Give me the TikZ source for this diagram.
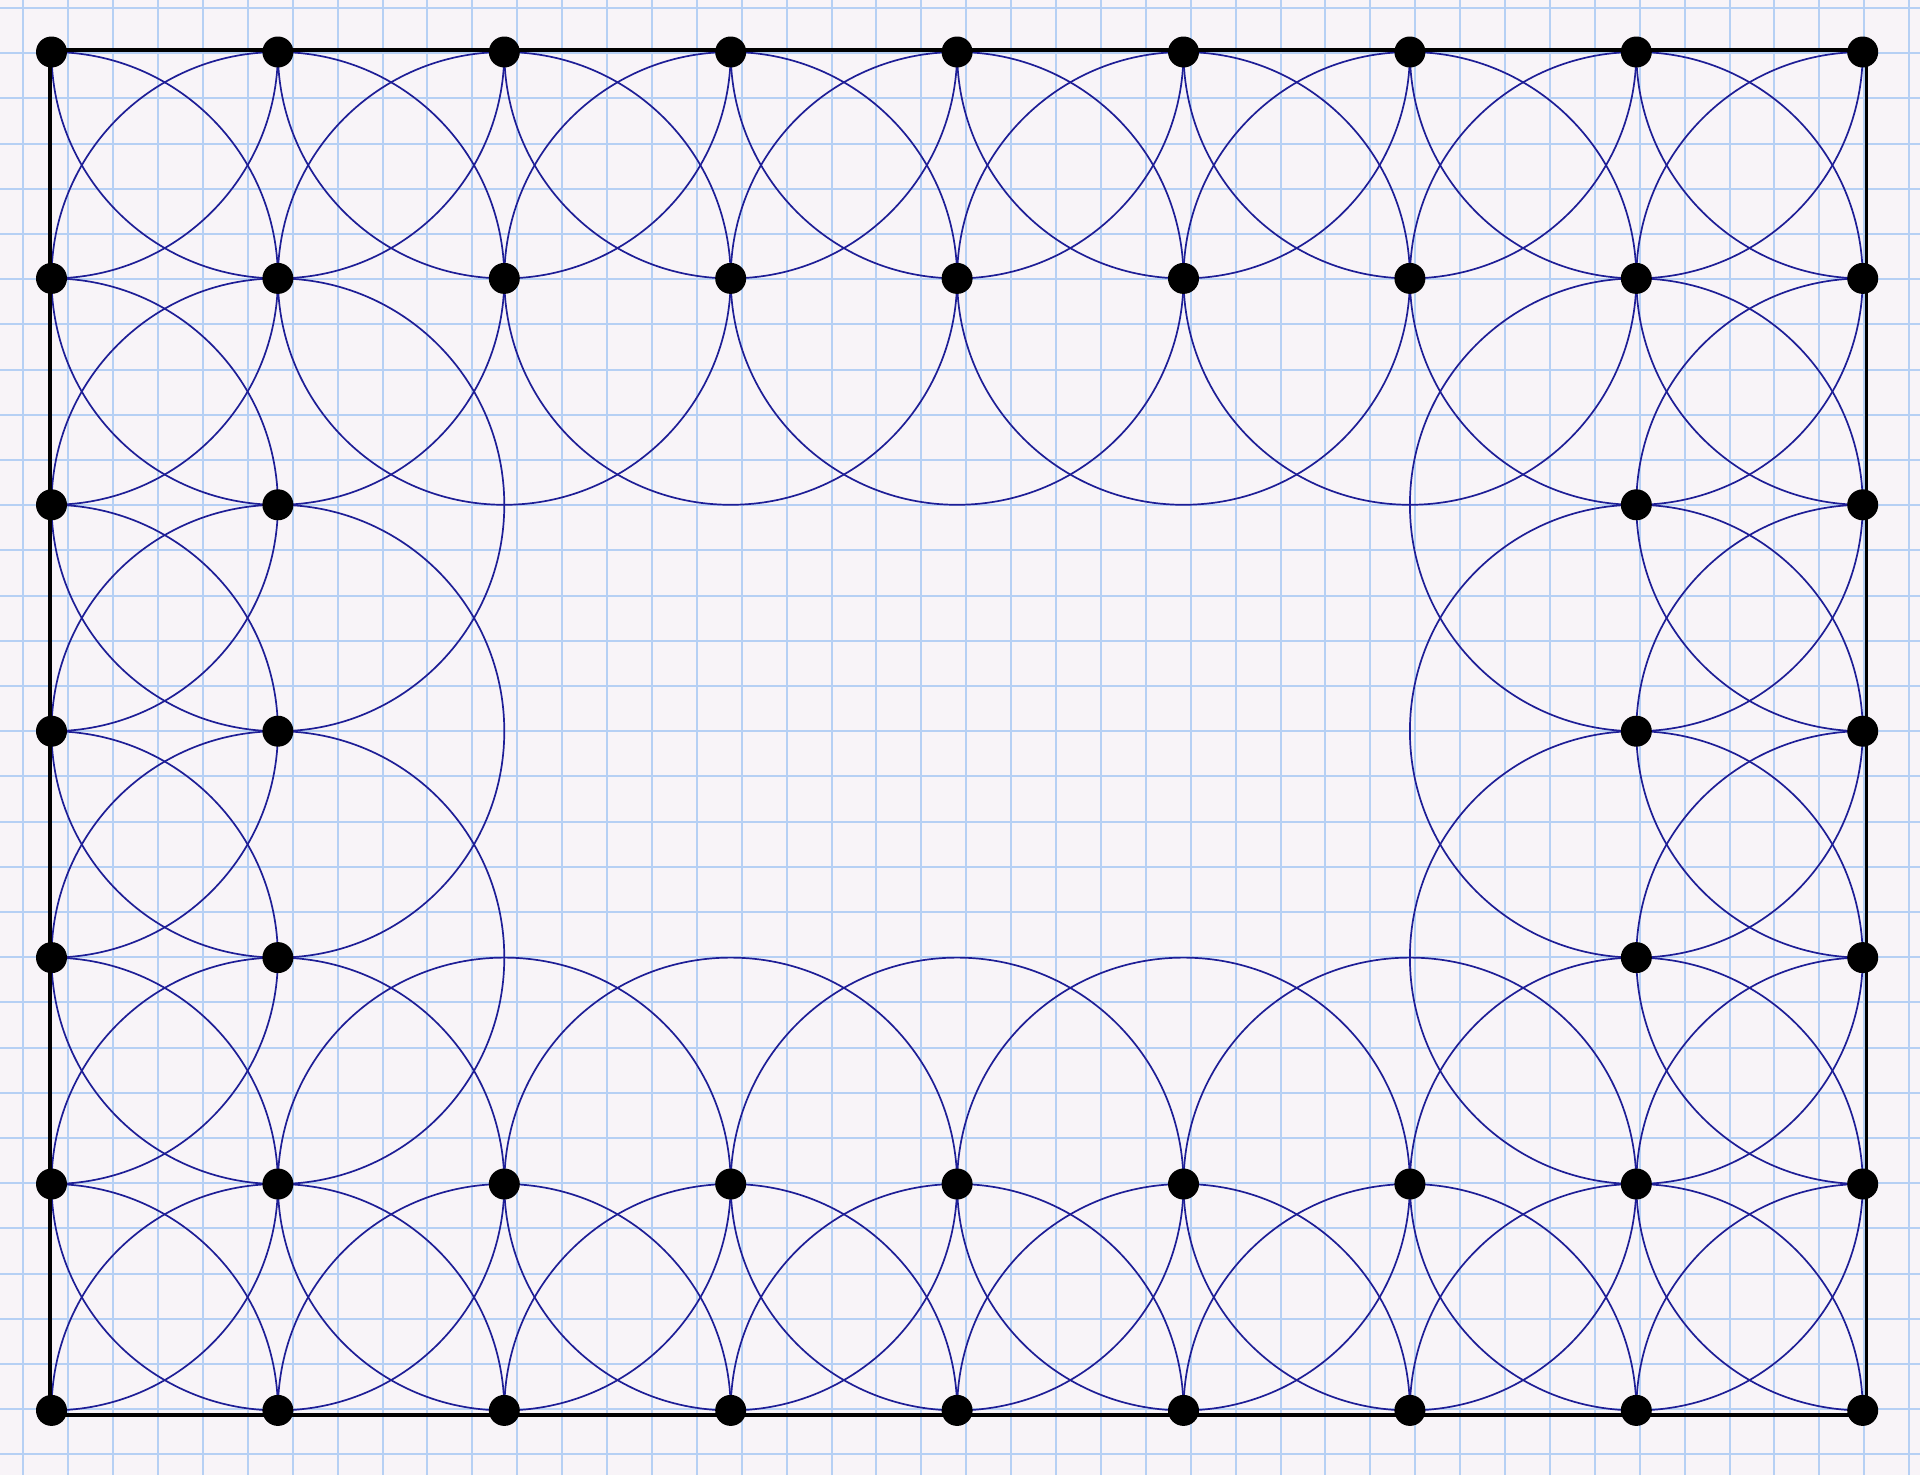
\documentclass[tikz,border=0pt]{standalone}
\definecolor{paper}{RGB}{248,244,248}
\definecolor{gridblue}{RGB}{182,208,244}
\definecolor{inkblue}{RGB}{30,30,150}
\begin{document}
\begin{tikzpicture}[x=1pt,y=-1pt,
  gridline/.style={gridblue, line width=2pt},
  arcline/.style={inkblue, line width=1.7pt},
  frameline/.style={black, line width=3.4pt, line join=miter},
  dotnode/.style={circle, fill=black, inner sep=0pt, minimum size=31pt}]
\fill[paper] (0,0) rectangle (1920,1475);
\useasboundingbox (0,0) rectangle (1920,1475);
% graph paper
\foreach \k in {0,...,42} \draw[gridline] ({23.3+44.9*\k},0) -- ({23.3+44.9*\k},1475);
\foreach \k in {0,...,32} \draw[gridline] (0,{8+45.2*\k}) -- (1920,{8+45.2*\k});
% lattice positions
\foreach \i in {0,...,8} \foreach \j in {0,...,6}
  \coordinate (p-\i-\j) at ({51.5+226.4*\i},{52+226.4*\j});
% frame corners (the drawn frame sits slightly outside the dot lattice)
\coordinate (f-tl) at ([shift={(-1.5,-2)}]p-0-0);
\coordinate (f-tr) at ([shift={(4,-2)}]p-8-0);
\coordinate (f-br) at ([shift={(4,4.5)}]p-8-6);
\coordinate (f-bl) at ([shift={(-1.5,4.5)}]p-0-6);
% circles, clipped to the frame
\begin{scope}
  \clip (f-tl) rectangle (f-br);
  \foreach \j in {0,1,5,6} \foreach \i in {0,...,8}
    \draw[arcline] (p-\i-\j) circle[radius=226.4pt];
  \foreach \j in {2,3,4} \foreach \i in {0,1,7,8}
    \draw[arcline] (p-\i-\j) circle[radius=226.4pt];
\end{scope}
% frame
\draw[frameline] (f-tl) -- (f-tr) -- (f-br) -- (f-bl) -- cycle;
% dots
\foreach \j in {0,1,5,6} \foreach \i in {0,...,8}
  \node[dotnode] (d-\i-\j) at (p-\i-\j) {};
\foreach \j in {2,3,4} \foreach \i in {0,1,7,8}
  \node[dotnode] (d-\i-\j) at (p-\i-\j) {};
\end{tikzpicture}
\end{document}
